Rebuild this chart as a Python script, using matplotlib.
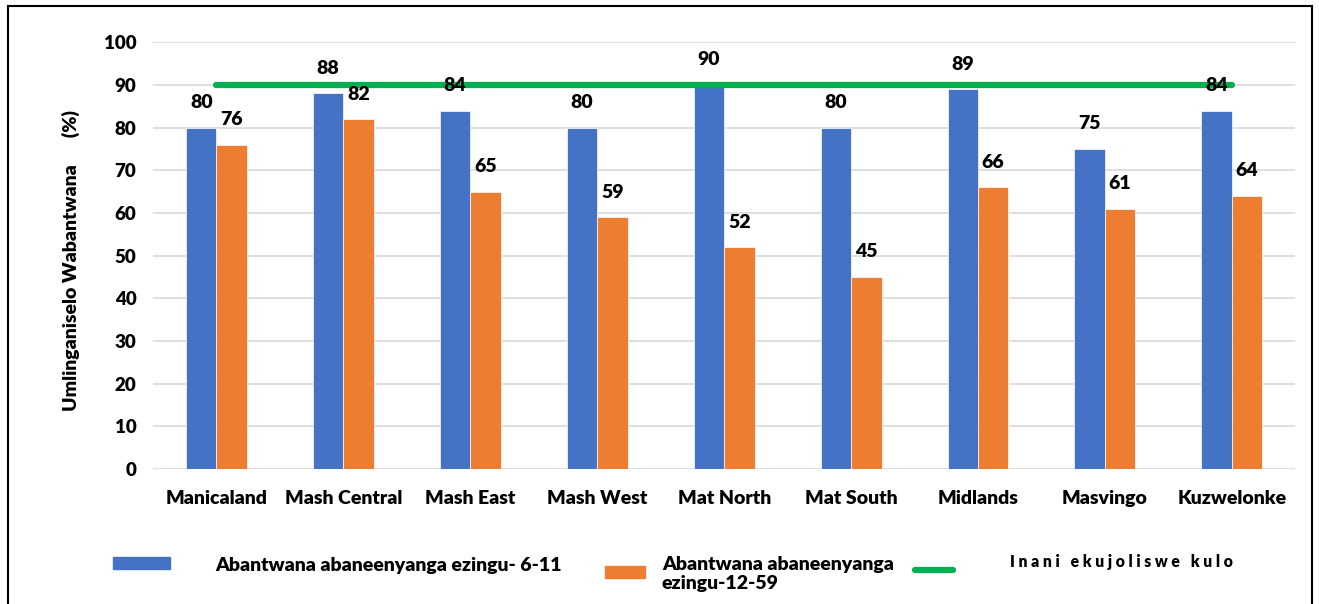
import matplotlib.pyplot as plt
import numpy as np
from matplotlib.patches import Rectangle
from matplotlib.lines import Line2D

provinces = ["Manicaland", "Mash Central", "Mash East", "Mash West", "Mat North",
             "Mat South", "Midlands", "Masvingo", "Kuzwelonke"]
age_6_11 = [80, 88, 84, 80, 90, 80, 89, 75, 84]
age_12_59 = [76, 82, 65, 59, 52, 45, 66, 61, 64]
target = [90] * len(provinces)

blue = "#4472C4"
orange = "#ED7D31"
green = "#00B050"
plt.rcParams["font.family"] = ["Lato", "DejaVu Sans"]
plt.rcParams["font.weight"] = "heavy"
wt = "heavy"

fig = plt.figure(figsize=(13.19, 6.04), dpi=100)
ax = fig.add_axes([0.116, 0.2235, 0.866, 0.7065])

x = np.arange(len(provinces))
w = 0.24
b1 = ax.bar(x - w / 2, age_6_11, w, color=blue, edgecolor="white", linewidth=0.5, zorder=2)
b2 = ax.bar(x + w / 2, age_12_59, w, color=orange, edgecolor="white", linewidth=0.5, zorder=2)
ax.plot(x, target, color=green, linewidth=4.5, solid_capstyle="round", zorder=3)

for bars, vals in ((b1, age_6_11), (b2, age_12_59)):
    for r, v in zip(bars, vals):
        ax.annotate(str(v), (r.get_x() + r.get_width() / 2, v), xytext=(0, 18),
                    textcoords="offset points", ha="center", va="center",
                    fontsize=14, fontweight=wt, zorder=4)

ax.set_xlim(-0.5, len(provinces) - 0.5)
ax.set_ylim(0, 100)
ax.set_yticks(range(0, 101, 10))
ax.yaxis.grid(True, color="#d9d9d9", linewidth=1.2, zorder=0)
ax.set_axisbelow(True)
for s in ax.spines.values():
    s.set_visible(False)
ax.tick_params(length=0, labelsize=13.5, pad=12)
ax.tick_params(axis="x", pad=15)
ax.set_xticks(x)
ax.set_xticklabels(provinces, fontweight=wt, fontsize=14)
for t in ax.get_yticklabels():
    t.set_fontweight(wt)
ax.set_ylabel("Umlinganiselo Wabantwana      (%)", fontsize=14, fontweight=wt)
ax.yaxis.set_label_coords(-0.064, 0.489)

# outer frame
fig.patches.append(Rectangle((8 / 1319, -0.05), 1304 / 1319, 1 - 6 / 604 + 0.05,
                             transform=fig.transFigure, fill=False,
                             edgecolor="black", linewidth=1.5))

# legend drawn along the bottom
fig.patches.append(Rectangle((113 / 1319, 1 - 569 / 604), 57 / 1319, 12 / 604,
                             transform=fig.transFigure, color=blue))
fig.text(215 / 1319, 1 - 565 / 604, "Abantwana abaneenyanga ezingu- 6-11",
         fontsize=14, fontweight=wt, va="center")
fig.patches.append(Rectangle((605 / 1319, 1 - 578 / 604), 40 / 1319, 12 / 604,
                             transform=fig.transFigure, color=orange))
fig.text(662 / 1319, 1 - 574 / 604, "Abantwana abaneenyanga\nezingu-12-59",
         fontsize=14, fontweight=wt, va="center", linespacing=1.2)
fig.lines.append(Line2D([915 / 1319, 953 / 1319], [1 - 570 / 604] * 2,
                        transform=fig.transFigure, color=green, linewidth=4.5,
                        solid_capstyle="round"))
fig.text(1010 / 1319, 1 - 562 / 604, "I n a n i   e k u j o l i s w e   k u l o",
         fontsize=11.3, fontweight=wt, va="center")

fig.savefig("out.png", dpi=100)
